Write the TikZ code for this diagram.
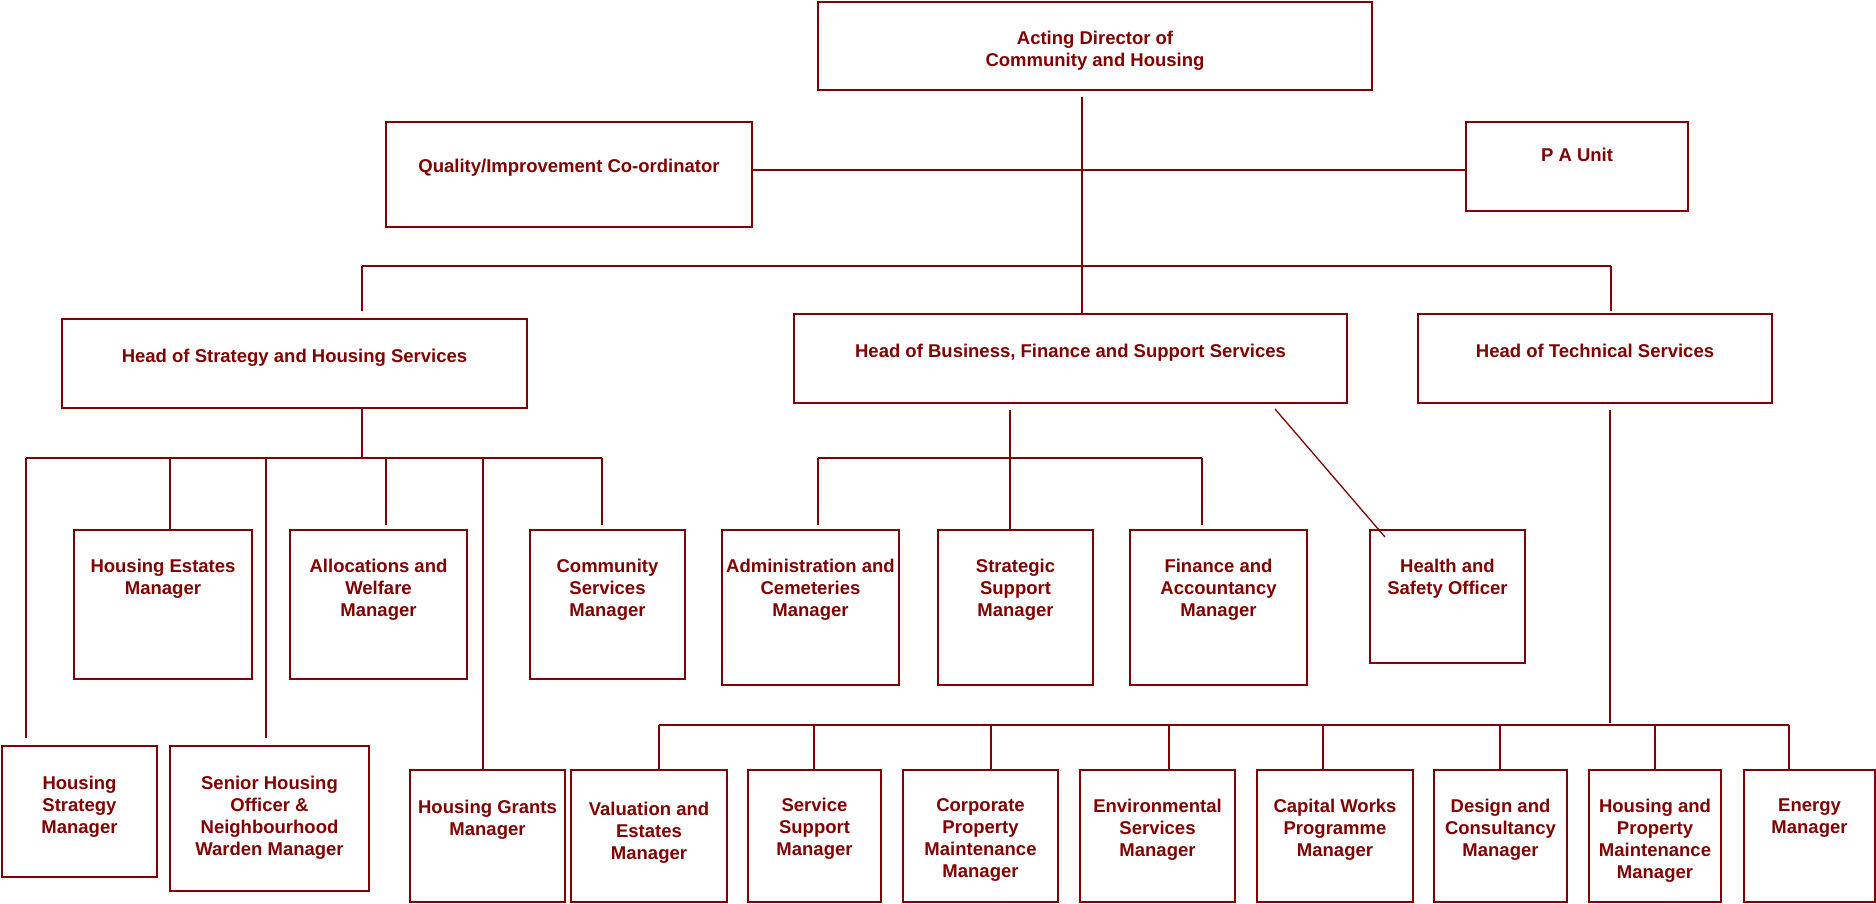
\documentclass[tikz,border=0pt]{standalone}
\usepackage{fontspec}
\setmainfont{Liberation Sans}
\definecolor{maroonc}{RGB}{130,0,0}
\tikzset{
  box/.style={draw=maroonc, line width=1.7pt, inner sep=0pt, rectangle},
  txt/.style={text=maroonc, font=\bfseries\fontsize{18.5}{22}\selectfont, align=center, inner sep=0pt, yshift=-2.5pt},
  conn/.style={draw=maroonc, line width=1.3pt}
}
\newcommand\orgbox[7]{%
  \node[box, minimum width={#4-#2}, minimum height={#5-#3}] (#1) at ({(#2+#4)/2},{(#3+#5)/2}) {};
  \node[txt, anchor=north] (#1t) at ({(#2+#4)/2},#6) {#7};}
\begin{document}
\begin{tikzpicture}[x=1pt,y=-1pt]
\useasboundingbox (0,0) rectangle (1876,904);
% top level
\orgbox{dir}{818}{2}{1372}{90}{28}{Acting Director of\\Community and Housing}
\orgbox{qual}{386}{122}{752}{227}{156}{Quality/Improvement Co-ordinator}
\orgbox{pa}{1466}{122}{1688}{211}{145}{P A Unit}
\orgbox{hstrat}{62}{319}{527}{408}{346}{Head of Strategy and Housing Services}
\orgbox{hbus}{794}{314}{1347}{403}{341}{Head of Business, Finance and Support Services}
\orgbox{htech}{1418}{314}{1772}{403}{341}{Head of Technical Services}
% row 2
\orgbox{hse}{74}{530}{252}{679}{556}{Housing Estates\\Manager}
\orgbox{alloc}{290}{530}{467}{679}{556}{Allocations and\\Welfare\\Manager}
\orgbox{comm}{530}{530}{685}{679}{556}{Community\\Services\\Manager}
\orgbox{admin}{722}{530}{899}{685}{556}{Administration and\\Cemeteries\\Manager}
\orgbox{strat}{938}{530}{1093}{685}{556}{Strategic\\Support\\Manager}
\orgbox{fin}{1130}{530}{1307}{685}{556}{Finance and\\Accountancy\\Manager}
\orgbox{hs}{1370}{530}{1525}{663}{556}{Health and\\Safety Officer}
% row 3
\orgbox{hstr}{2}{746}{157}{877}{773}{Housing\\Strategy\\Manager}
\orgbox{senior}{170}{746}{369}{891}{773}{Senior Housing\\Officer \&\\Neighbourhood\\Warden Manager}
\orgbox{grants}{410}{770}{565}{902}{797}{Housing Grants\\Manager}
\orgbox{val}{571}{770}{727}{902}{799}{Valuation and\\Estates\\Manager}
\orgbox{serv}{748}{770}{881}{902}{795}{Service\\Support\\Manager}
\orgbox{corp}{903}{770}{1058}{902}{796}{Corporate\\Property\\Maintenance\\Manager}
\orgbox{env}{1080}{770}{1235}{902}{796}{Environmental\\Services\\Manager}
\orgbox{cap}{1257}{770}{1413}{902}{796}{Capital Works\\Programme\\Manager}
\orgbox{des}{1434}{770}{1567}{902}{796}{Design and\\Consultancy\\Manager}
\orgbox{hpm}{1589}{770}{1721}{902}{796}{Housing and\\Property\\Maintenance\\Manager}
\orgbox{energy}{1744}{770}{1875}{902}{796}{Energy\\Manager}
% connectors top
\coordinate (dstem) at (1082,97);
\draw[conn] (dstem) -- (hbus.north -| dstem);
\draw[conn] (qual.east |- 0,170) -- (pa.west |- 0,170);
\coordinate (tbl) at (362,266);
\coordinate (tbr) at (1611,266);
\draw[conn] (tbl) -- (tbr);
\draw[conn] (tbl) -- (362,311);
\draw[conn] (tbr) -- (1611,311);
% strategy group
\coordinate (sbl) at (26,458);
\coordinate (sbr) at (602,458);
\draw[conn] (hstrat.south -| 362,0) -- (362,458);
\draw[conn] (sbl) -- (sbr);
\draw[conn] (sbl) -- (26,738);
\draw[conn] (170,458) -- (hse.north -| 170,0);
\draw[conn] (266,458) -- (266,738);
\draw[conn] (386,458) -- (386,525);
\draw[conn] (483,458) -- (grants.north -| 483,0);
\draw[conn] (sbr) -- (602,525);
% business group
\draw[conn] (hbus.south -| 1010,0) ++(0,6) -- (strat.north -| 1010,0);
\coordinate (bbl) at (818,458);
\coordinate (bbr) at (1202,458);
\draw[conn] (bbl) -- (bbr);
\draw[conn] (bbl) -- (818,525);
\draw[conn] (bbr) -- (1202,525);
\draw[conn] (1275,409) -- (1385,537);
% technical group
\draw[conn] (htech.south -| 1610,0) ++(0,6) -- (1610,723);
\coordinate (tcl) at (659,725);
\coordinate (tcr) at (1789,725);
\draw[conn] (tcl) -- (tcr);
\foreach \n/\x in {val/659,serv/814,corp/991,env/1169,cap/1323,des/1500,hpm/1655,energy/1789}
  \draw[conn] (\x,725) -- (\n.north -| \x,0);
\end{tikzpicture}
\end{document}
